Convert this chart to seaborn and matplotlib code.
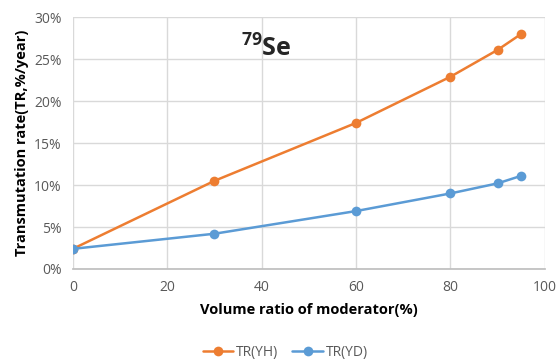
import matplotlib
matplotlib.use("Agg")
import matplotlib.pyplot as plt
import seaborn as sns
import pandas as pd
from matplotlib.ticker import FuncFormatter

volume = [0, 30, 60, 80, 90, 95]
tr_yh = [2.4, 10.5, 17.4, 22.9, 26.1, 28.0]
tr_yd = [2.4, 4.2, 6.9, 9.0, 10.2, 11.1]
series_names = ["TR(YH)", "TR(YD)"]
colors = ["#ED7D31", "#5B9BD5"]

df = pd.concat([
    pd.DataFrame({"x": volume, "y": tr_yh, "s": series_names[0]}),
    pd.DataFrame({"x": volume, "y": tr_yd, "s": series_names[1]}),
])

sns.set_theme(style="white")
plt.rcParams['font.family'] = ['Open Sans', 'DejaVu Sans']
plt.rcParams['mathtext.fontset'] = 'custom'
plt.rcParams['mathtext.bf'] = 'Open Sans:bold'
plt.rcParams['mathtext.rm'] = 'Open Sans'

fig = plt.figure(figsize=(5.56, 3.64), dpi=100)
ax = fig.add_axes([0.131, 0.261, 0.849, 0.692])

sns.lineplot(data=df, x="x", y="y", hue="s", palette=colors, marker="o",
             markersize=7, markeredgewidth=0, linewidth=1.8, ax=ax, legend=True)

ax.set_xlim(0, 100)
ax.set_ylim(0, 30)
ax.set_xticks([0, 20, 40, 60, 80, 100])
ax.set_yticks([0, 5, 10, 15, 20, 25, 30])
ax.yaxis.set_major_formatter(FuncFormatter(lambda v, p: f"{int(v)}%"))
ax.grid(True, color="#D9D9D9", linewidth=1)
for side in ["top", "right", "left"]:
    ax.spines[side].set_visible(False)
ax.spines["bottom"].set_color("#BFBFBF")
ax.tick_params(axis="both", colors="#595959", labelsize=10, length=0, pad=8)
ax.set_xlabel("Volume ratio of moderator(%)", fontsize=10.5, fontweight="bold", color="black", labelpad=6)
ax.set_ylabel("Transmutation rate(TR,%/year)", fontsize=10.5, fontweight="bold", color="black", labelpad=4)

ax.text(41, 26.2, r"$^{\mathbf{79}}$Se", fontsize=18, fontweight="bold", ha="center", va="center")

handles, labels = ax.get_legend_handles_labels()
ax.legend(handles, labels, loc="center", bbox_to_anchor=(0.45, -0.33), ncol=2,
          frameon=False, fontsize=10, handlelength=2.2, handletextpad=0.2,
          columnspacing=1.0, labelcolor="#595959")

fig.savefig("out.png", dpi=100)
